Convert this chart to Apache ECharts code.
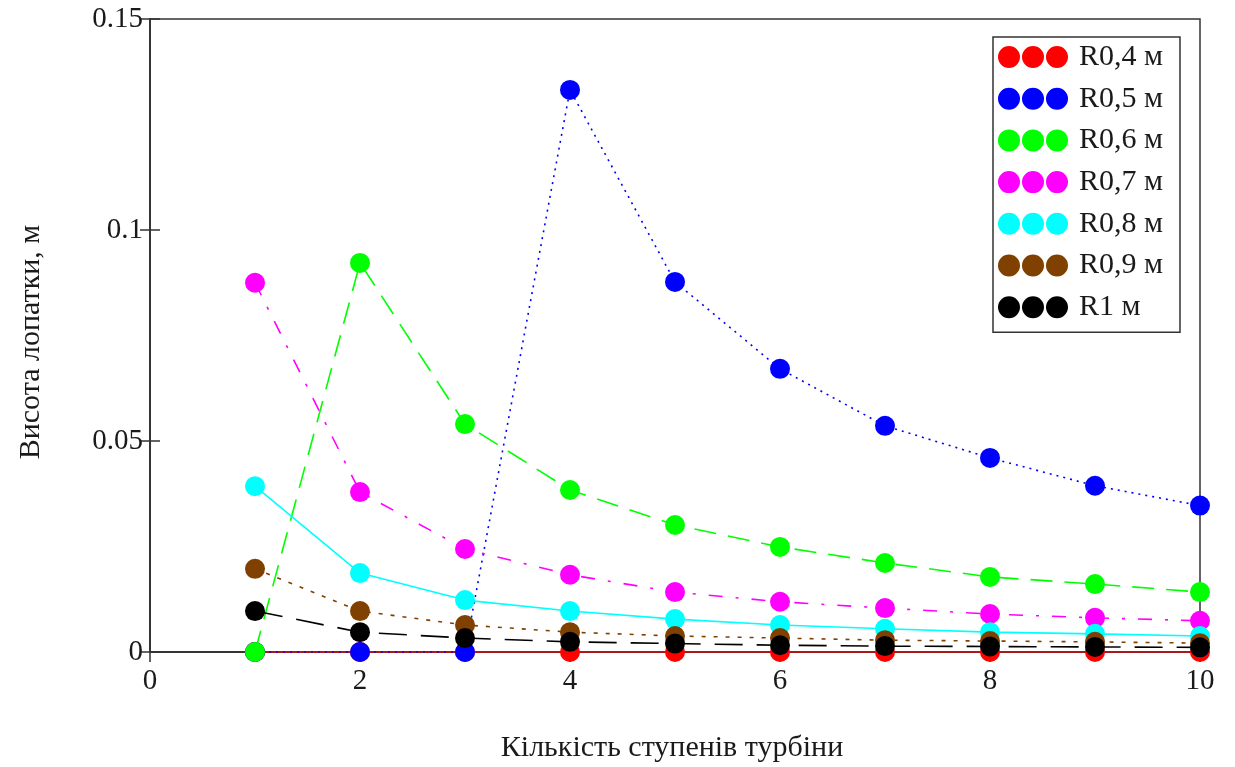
<!DOCTYPE html>
<html><head><meta charset="utf-8">
<script src="https://cdn.jsdelivr.net/npm/echarts@6/dist/echarts.min.js"></script>
<style>html,body{margin:0;padding:0;background:#fff}#c{width:1235px;height:767px}</style>
</head><body><div id="c"></div>
<script>
const stages = [1,2,3,4,5,6,7,8,9,10];
const seriesNames = ['R0,4 м','R0,5 м','R0,6 м','R0,7 м','R0,8 м','R0,9 м','R1 м'];
const r04 = [0,0,0,0,0,0,0,0,0,0];
const r05 = [0,0,0,0.1332,0.0877,0.0671,0.0536,0.0460,0.0394,0.0347];
const r06 = [0,0.0922,0.0540,0.0384,0.0301,0.0249,0.0211,0.0178,0.0161,0.0142];
const r07 = [0.0875,0.0379,0.0244,0.0183,0.0142,0.0119,0.0104,0.0090,0.0081,0.0074];
const r08 = [0.0393,0.0187,0.0123,0.0097,0.0078,0.0064,0.0055,0.0047,0.0043,0.0038];
const r09 = [0.0197,0.0097,0.0064,0.0047,0.0038,0.0033,0.0028,0.0026,0.0024,0.0021];
const r10 = [0.0097,0.0047,0.0033,0.0024,0.0020,0.0016,0.0014,0.0013,0.0012,0.0011];
const yTicks = [0, 0.05, 0.1, 0.15];
const xTicks = [0, 2, 4, 6, 8, 10];
const xTitle = 'Кількість ступенів турбіни';
const yTitle = 'Висота лопатки, м';

const values = [r04,r05,r06,r07,r08,r09,r10];
const colors = ['#ff0000','#0000ff','#00ff00','#ff00ff','#00ffff','#804000','#000000'];
const dashes = ['solid',[2,5],[22,12],[14,13,3,13],'solid',[4,8],[28,14]];
const FONT = '"Liberation Serif", "DejaVu Serif", serif';
const TXT = '#1a1a1a';

const chart = echarts.init(document.getElementById('c'), null, {renderer:'canvas'});
const threeDots = 'path://M0,11a11,11 0 1,0 22,0a11,11 0 1,0 -22,0M24,11a11,11 0 1,0 22,0a11,11 0 1,0 -22,0M48,11a11,11 0 1,0 22,0a11,11 0 1,0 -22,0';

const axisLineStyle = {color:'#333', width:1.5};
const option = {
  animation:false,
  backgroundColor:'#fff',
  grid:{left:150, right:35, top:19, bottom:115, show:true, borderColor:'#333', borderWidth:1.5},
  xAxis:[{
    type:'value', min:0, max:10, interval:2,
    axisLine:{show:true, onZero:false, lineStyle:axisLineStyle},
    axisTick:{show:true, inside:true, length:10, lineStyle:axisLineStyle},
    axisLabel:{fontFamily:FONT, fontSize:29, color:TXT, margin:15,
      formatter:v=>xTicks.includes(v)?String(v):''},
    splitLine:{show:false}
  },{
    type:'value', position:'top', min:0, max:10, interval:2,
    axisLine:{show:true, lineStyle:axisLineStyle},
    axisTick:{show:true, inside:true, length:10, lineStyle:axisLineStyle},
    axisLabel:{show:false}, splitLine:{show:false}
  }],
  yAxis:[{
    type:'value', min:0, max:0.15, interval:0.05,
    axisLine:{show:true, onZero:false, lineStyle:axisLineStyle},
    axisTick:{show:true, inside:true, length:10, lineStyle:axisLineStyle},
    axisLabel:{fontFamily:FONT, fontSize:29, color:TXT, margin:7,
      formatter:v=>{const t=yTicks.find(a=>Math.abs(a-v)<1e-9);return t===undefined?'':String(t);}},
    splitLine:{show:false}
  },{
    type:'value', position:'right', min:0, max:0.15, interval:0.05,
    axisLine:{show:true, lineStyle:axisLineStyle},
    axisTick:{show:true, inside:true, length:10, lineStyle:axisLineStyle},
    axisLabel:{show:false}, splitLine:{show:false}
  }],
  legend:{
    show:true, orient:'vertical', left:993, top:37,
    data:seriesNames, icon:threeDots, itemWidth:70, itemHeight:22, itemGap:11.7,
    padding:[5,17,10,5],
    backgroundColor:'#fff', borderColor:'#333', borderWidth:1.5,
    textStyle:{fontFamily:FONT, fontSize:30, lineHeight:30, color:TXT, padding:[0,0,0,6]}
  },
  graphic:[
    {type:'text', x:672, y:748, style:{text:xTitle, font:'30px '+FONT, fill:TXT, align:'center', verticalAlign:'middle'}},
    {type:'text', x:31, y:342, rotation:Math.PI/2, style:{text:yTitle, font:'30px '+FONT, fill:TXT, align:'center', verticalAlign:'middle'}}
  ],
  series: values.map((vals,i)=>({
    name:seriesNames[i], type:'line',
    data: stages.map((s,j)=>[s, vals[j]]),
    symbol:'circle', symbolSize:20,
    itemStyle:{color:colors[i]},
    lineStyle:{color:colors[i], width:1.6, type: dashes[i]},
    clip:true, z:2+i
  }))
};
chart.setOption(option);
</script></body></html>
